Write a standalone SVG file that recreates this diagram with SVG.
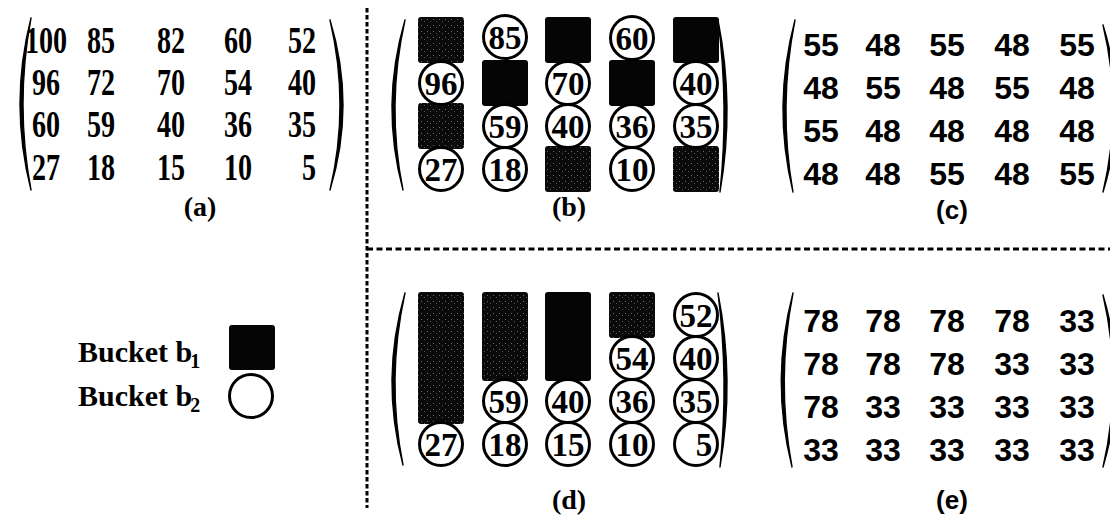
<svg xmlns="http://www.w3.org/2000/svg" width="1110" height="518" viewBox="0 0 1110 518">
<style>
.ma{font-family:"Liberation Serif","Times New Roman",serif;font-weight:bold;font-size:38px;text-anchor:middle;fill:#000}
.ms{font-family:"Liberation Sans",Arial,sans-serif;font-weight:bold;font-size:32px;text-anchor:middle;fill:#000}
.ct{font-family:"Liberation Serif","Times New Roman",serif;font-weight:bold;font-size:33px;text-anchor:middle;fill:#000}
.lb{font-family:"Liberation Serif","Times New Roman",serif;font-weight:bold;font-size:28px;text-anchor:middle;fill:#000}
.lbs{font-family:"Liberation Sans",Arial,sans-serif;font-weight:bold;font-size:26px;text-anchor:middle;fill:#000}
.lg{font-family:"Liberation Serif","Times New Roman",serif;font-weight:bold;font-size:30px;fill:#000}
.par{fill:#000;stroke:#000;stroke-width:1.4;stroke-linejoin:round}
.sq{fill:#050505}
.sqd{fill:url(#dith)}
.cc{fill:#fff;stroke:#000;stroke-width:3}
.div{fill:none;stroke:#000;stroke-width:3}
</style>
<defs>
<pattern id="dith" width="6" height="6" patternUnits="userSpaceOnUse">
<rect width="6" height="6" fill="#0a0a0a"/>
<rect x="1" y="1" width="1" height="1" fill="#6a6a6a"/>
<rect x="4" y="3" width="1" height="1" fill="#555"/>
</pattern>
</defs>

<g id="dividers">
<line class="div" x1="367" y1="8" x2="367" y2="508" stroke-dasharray="4.5 2.5"/>
<line class="div" x1="367" y1="249" x2="1110" y2="249" stroke-dasharray="6 3.5"/>
</g>

<g id="panel-a">
<path class="par" d="M31,18 Q9,104 31,190 Q15,104 31,18 Z"/>
<path class="par" d="M330,20 Q356,105 330,190 Q350,105 330,20 Z"/>
<g id="a-row1">
<text class="ma" transform="translate(46,53) scale(0.74,1)">100</text>
<text class="ma" transform="translate(101,53) scale(0.74,1)">85</text>
<text class="ma" transform="translate(171,53) scale(0.74,1)">82</text>
<text class="ma" transform="translate(238,53) scale(0.74,1)">60</text>
<text class="ma" transform="translate(302,53) scale(0.74,1)">52</text>
</g>
<g id="a-row2">
<text class="ma" transform="translate(46,95) scale(0.74,1)">96</text>
<text class="ma" transform="translate(101,95) scale(0.74,1)">72</text>
<text class="ma" transform="translate(171,95) scale(0.74,1)">70</text>
<text class="ma" transform="translate(238,95) scale(0.74,1)">54</text>
<text class="ma" transform="translate(302,95) scale(0.74,1)">40</text>
</g>
<g id="a-row3">
<text class="ma" transform="translate(46,137) scale(0.74,1)">60</text>
<text class="ma" transform="translate(101,137) scale(0.74,1)">59</text>
<text class="ma" transform="translate(171,137) scale(0.74,1)">40</text>
<text class="ma" transform="translate(238,137) scale(0.74,1)">36</text>
<text class="ma" transform="translate(302,137) scale(0.74,1)">35</text>
</g>
<g id="a-row4">
<text class="ma" transform="translate(46,180) scale(0.74,1)">27</text>
<text class="ma" transform="translate(101,180) scale(0.74,1)">18</text>
<text class="ma" transform="translate(171,180) scale(0.74,1)">15</text>
<text class="ma" transform="translate(238,180) scale(0.74,1)">10</text>
<text class="ma" transform="translate(309,180) scale(0.74,1)">5</text>
</g>
<text class="lb" x="200" y="216">(a)</text>
</g>

<g id="panel-b">
<path class="par" d="M405,20 Q380,105 403,190 Q386,105 405,20 Z"/>
<path class="par" d="M718,20 Q735,106 720,192 Q729,106 718,20 Z"/>
<g id="b-squares">
<rect class="sqd" x="418" y="17" width="46" height="46" rx="3"/>
<rect class="sq" x="545" y="17" width="46" height="46" rx="3"/>
<rect class="sq" x="673" y="17" width="46" height="46" rx="3"/>
<rect class="sq" x="482" y="60" width="46" height="46" rx="3"/>
<rect class="sq" x="609" y="60" width="46" height="46" rx="3"/>
<rect class="sqd" x="418" y="103" width="46" height="46" rx="3"/>
<rect class="sqd" x="545" y="146" width="46" height="46" rx="3"/>
<rect class="sqd" x="673" y="146" width="46" height="46" rx="3"/>
</g>
<g id="b-c85"><circle class="cc" cx="505" cy="37" r="21.5"/><text class="ct" x="505" y="49">85</text></g>
<g id="b-c60"><circle class="cc" cx="632" cy="38" r="21.5"/><text class="ct" x="632" y="50">60</text></g>
<g id="b-c96"><circle class="cc" cx="441" cy="83" r="21.5"/><text class="ct" x="441" y="95">96</text></g>
<g id="b-c70"><circle class="cc" cx="568" cy="83" r="21.5"/><text class="ct" x="568" y="95">70</text></g>
<g id="b-c40a"><circle class="cc" cx="696" cy="83" r="21.5"/><text class="ct" x="696" y="95">40</text></g>
<g id="b-c59"><circle class="cc" cx="505" cy="126" r="21.5"/><text class="ct" x="505" y="138">59</text></g>
<g id="b-c40b"><circle class="cc" cx="568" cy="126" r="21.5"/><text class="ct" x="568" y="138">40</text></g>
<g id="b-c36"><circle class="cc" cx="632" cy="126" r="21.5"/><text class="ct" x="632" y="138">36</text></g>
<g id="b-c35"><circle class="cc" cx="696" cy="126" r="21.5"/><text class="ct" x="696" y="138">35</text></g>
<g id="b-c27"><circle class="cc" cx="441" cy="169" r="21.5"/><text class="ct" x="441" y="181">27</text></g>
<g id="b-c18"><circle class="cc" cx="505" cy="169" r="21.5"/><text class="ct" x="505" y="181">18</text></g>
<g id="b-c10"><circle class="cc" cx="632" cy="169" r="21.5"/><text class="ct" x="632" y="181">10</text></g>
<text class="lb" x="569" y="216">(b)</text>
</g>

<g id="panel-c">
<path class="par" d="M795,20 Q772,106 793,192 Q778,106 795,20 Z"/>
<path class="par" d="M1103,25 Q1129,108 1103,192 Q1123,108 1103,25 Z"/>
<g id="c-row1">
<text class="ms" x="821" y="56">55</text><text class="ms" x="883" y="56">48</text><text class="ms" x="947" y="56">55</text><text class="ms" x="1012" y="56">48</text><text class="ms" x="1077" y="56">55</text>
</g>
<g id="c-row2">
<text class="ms" x="821" y="99">48</text><text class="ms" x="883" y="99">55</text><text class="ms" x="947" y="99">48</text><text class="ms" x="1012" y="99">55</text><text class="ms" x="1077" y="99">48</text>
</g>
<g id="c-row3">
<text class="ms" x="821" y="142">55</text><text class="ms" x="883" y="142">48</text><text class="ms" x="947" y="142">48</text><text class="ms" x="1012" y="142">48</text><text class="ms" x="1077" y="142">48</text>
</g>
<g id="c-row4">
<text class="ms" x="821" y="185">48</text><text class="ms" x="883" y="185">48</text><text class="ms" x="947" y="185">55</text><text class="ms" x="1012" y="185">48</text><text class="ms" x="1077" y="185">55</text>
</g>
<text class="lbs" x="952" y="219">(c)</text>
</g>

<g id="legend">
<text class="lg" x="78" y="362">Bucket b<tspan font-size="20" dx="-2" dy="6">1</tspan></text>
<text class="lg" x="78" y="406">Bucket b<tspan font-size="20" dx="-2" dy="6">2</tspan></text>
<rect id="legend-b1" class="sq" x="229" y="325" width="46" height="45" rx="3"/>
<circle id="legend-b2" class="cc" cx="251" cy="396" r="21.5"/>
</g>

<g id="panel-d">
<path class="par" d="M405,293 Q380,379 403,465 Q386,379 405,293 Z"/>
<path class="par" d="M718,293 Q735,380 720,467 Q729,380 718,293 Z"/>
<g id="d-squares">
<rect class="sqd" x="418" y="292" width="46" height="132" rx="3"/>
<rect class="sqd" x="482" y="292" width="46" height="89" rx="3"/>
<rect class="sq" x="545" y="292" width="46" height="89" rx="3"/>
<rect class="sqd" x="609" y="292" width="46" height="46" rx="3"/>
</g>
<g id="d-c52"><circle class="cc" cx="696" cy="315" r="21.5"/><text class="ct" x="696" y="327">52</text></g>
<g id="d-c54"><circle class="cc" cx="632" cy="358" r="21.5"/><text class="ct" x="632" y="370">54</text></g>
<g id="d-c40a"><circle class="cc" cx="696" cy="358" r="21.5"/><text class="ct" x="696" y="370">40</text></g>
<g id="d-c59"><circle class="cc" cx="505" cy="401" r="21.5"/><text class="ct" x="505" y="413">59</text></g>
<g id="d-c40b"><circle class="cc" cx="568" cy="401" r="21.5"/><text class="ct" x="568" y="413">40</text></g>
<g id="d-c36"><circle class="cc" cx="632" cy="401" r="21.5"/><text class="ct" x="632" y="413">36</text></g>
<g id="d-c35"><circle class="cc" cx="696" cy="401" r="21.5"/><text class="ct" x="696" y="413">35</text></g>
<g id="d-c27"><circle class="cc" cx="441" cy="444" r="21.5"/><text class="ct" x="441" y="456">27</text></g>
<g id="d-c18"><circle class="cc" cx="505" cy="444" r="21.5"/><text class="ct" x="505" y="456">18</text></g>
<g id="d-c15"><circle class="cc" cx="568" cy="444" r="21.5"/><text class="ct" x="568" y="456">15</text></g>
<g id="d-c10"><circle class="cc" cx="632" cy="444" r="21.5"/><text class="ct" x="632" y="456">10</text></g>
<g id="d-c5"><circle class="cc" cx="696" cy="444" r="21.5"/><text class="ct" x="704" y="456">5</text></g>
<text class="lb" x="569" y="509">(d)</text>
</g>

<g id="panel-e">
<path class="par" d="M793,293 Q770,380 792,467 Q776,380 793,293 Z"/>
<path class="par" d="M1103,295 Q1129,381 1103,467 Q1123,381 1103,295 Z"/>
<g id="e-row1">
<text class="ms" x="821" y="332">78</text><text class="ms" x="883" y="332">78</text><text class="ms" x="947" y="332">78</text><text class="ms" x="1012" y="332">78</text><text class="ms" x="1077" y="332">33</text>
</g>
<g id="e-row2">
<text class="ms" x="821" y="375">78</text><text class="ms" x="883" y="375">78</text><text class="ms" x="947" y="375">78</text><text class="ms" x="1012" y="375">33</text><text class="ms" x="1077" y="375">33</text>
</g>
<g id="e-row3">
<text class="ms" x="821" y="418">78</text><text class="ms" x="883" y="418">33</text><text class="ms" x="947" y="418">33</text><text class="ms" x="1012" y="418">33</text><text class="ms" x="1077" y="418">33</text>
</g>
<g id="e-row4">
<text class="ms" x="821" y="461">33</text><text class="ms" x="883" y="461">33</text><text class="ms" x="947" y="461">33</text><text class="ms" x="1012" y="461">33</text><text class="ms" x="1077" y="461">33</text>
</g>
<text class="lbs" x="952" y="509">(e)</text>
</g>
</svg>
